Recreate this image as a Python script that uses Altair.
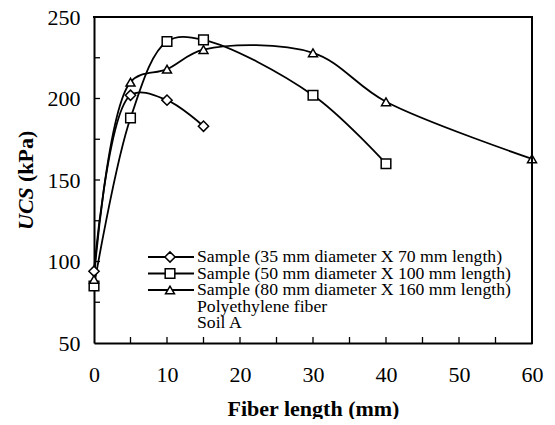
import altair as alt
import pandas as pd

# ---- data ----
series_names = [
    "Sample (35 mm diameter X 70 mm length)",
    "Sample (50 mm diameter X 100 mm length)",
    "Sample (80 mm diameter X 160 mm length)",
]
shapes = ["diamond", "square", "triangle-up"]
x35 = [0, 5, 10, 15]
y35 = [94, 202, 199, 183]
x50 = [0, 5, 10, 15, 30, 40]
y50 = [85, 188, 235, 236, 202, 160]
x80 = [0, 5, 10, 15, 30, 40, 60]
y80 = [89, 210, 218, 230, 228, 198, 163]
notes = ["Polyethylene fiber", "Soil A"]
x_label_values = [0, 10, 20, 30, 40, 50, 60]
y_label_values = [50, 100, 150, 200, 250]
x_minor_ticks = [5, 10, 15, 20, 25, 30, 35, 40, 45, 50, 55]
y_minor_ticks = [75, 100, 125, 150, 175, 200, 225]

FONT = "Liberation Serif, Times New Roman, serif"
W, H = 438, 326

rows = []
for name, xs, ys in zip(series_names, [x35, x50, x80], [y35, y50, y80]):
    for i, (a, b) in enumerate(zip(xs, ys)):
        rows.append({"series": name, "x": a, "y": b, "order": i})
df = pd.DataFrame(rows)

xscale = alt.Scale(domain=[0, 60], nice=False, zero=False)
yscale = alt.Scale(domain=[50, 250], nice=False, zero=False)
shape_scale = alt.Scale(domain=series_names, range=shapes)
size_scale = alt.Scale(domain=series_names, range=[105, 80, 95])

x_enc = alt.X(
    "x:Q", scale=xscale,
    axis=alt.Axis(values=x_label_values, title="Fiber length (mm)", grid=False,
                  domain=True, domainColor="black", domainWidth=2,
                  ticks=False, tickSize=0, labelPadding=21,
                  labelFlush=False, labelOverlap=False,
                  labelFont=FONT, labelFontSize=22, labelColor="black",
                  titleFont=FONT, titleFontSize=22, titleFontWeight="bold",
                  titleColor="black", titleBaseline="alphabetic", titleY=72),
)
y_enc = alt.Y(
    "y:Q", scale=yscale,
    axis=alt.Axis(values=y_label_values, title=None, grid=False,
                  domain=True, domainColor="black", domainWidth=2,
                  ticks=False, tickSize=0, labelPadding=14, labelFlush=False,
                  labelOverlap=False, labelFont=FONT,
                  labelFontSize=22, labelColor="black"),
)

lines = alt.Chart(df).mark_line(interpolate="catmull-rom", color="black", strokeWidth=1.8).encode(
    x=x_enc, y=y_enc, detail="series:N", order="order:Q"
)
points = alt.Chart(df).mark_point(filled=True, fill="white", stroke="black", strokeWidth=1.5, opacity=1).encode(
    x=alt.X("x:Q", scale=xscale),
    y=alt.Y("y:Q", scale=yscale),
    shape=alt.Shape("series:N", scale=shape_scale, legend=None),
    size=alt.Size("series:N", scale=size_scale, legend=None),
)

# inward minor ticks
xt = alt.Chart(pd.DataFrame({"x": x_minor_ticks})).mark_rule(color="black", strokeWidth=1.3).encode(
    x=alt.X("x:Q", scale=xscale), y=alt.value(H), y2=alt.value(H - 6)
)
yt = alt.Chart(pd.DataFrame({"y": y_minor_ticks})).mark_rule(color="black", strokeWidth=1.3).encode(
    y=alt.Y("y:Q", scale=yscale), x=alt.value(0), x2=alt.value(6)
)

# top and right sides of the frame
one = pd.DataFrame({"f": [0]})
frame_style = dict(color="black", strokeWidth=2, strokeCap="square")
frame = [
    alt.Chart(one).mark_rule(**frame_style).encode(x=alt.value(0), x2=alt.value(W), y=alt.value(0)),
    alt.Chart(one).mark_rule(**frame_style).encode(x=alt.value(W), y=alt.value(0), y2=alt.value(H)),
]

# ---- in-plot legend (one small layer per row) ----
row_y = [240, 256.5, 273, 289.5, 306]
legend_layers = []
for i, name in enumerate(series_names):
    d = pd.DataFrame({"series": [name], "label": [name]})
    legend_layers.append(alt.Chart(d).mark_rule(color="black", strokeWidth=1.8).encode(
        y=alt.value(row_y[i]), x=alt.value(54), x2=alt.value(100)))
    legend_layers.append(alt.Chart(d).mark_point(
        filled=True, fill="white", stroke="black", strokeWidth=1.5, opacity=1
    ).encode(
        y=alt.value(row_y[i]), x=alt.value(76),
        shape=alt.Shape("series:N", scale=shape_scale, legend=None),
        size=alt.Size("series:N", scale=size_scale, legend=None),
    ))
    legend_layers.append(alt.Chart(d).mark_text(
        align="left", baseline="middle", font=FONT, fontSize=17.7, color="black"
    ).encode(y=alt.value(row_y[i]), x=alt.value(103), text="label:N"))
for j, t in enumerate(notes):
    d = pd.DataFrame({"label": [t]})
    legend_layers.append(alt.Chart(d).mark_text(
        align="left", baseline="middle", font=FONT, fontSize=17.7, color="black"
    ).encode(y=alt.value(row_y[3 + j]), x=alt.value(103), text="label:N"))

ttl1 = alt.Chart(pd.DataFrame({"t": ["UCS"]})).mark_text(
    align="left", baseline="middle", angle=270, font=FONT, fontSize=22,
    fontWeight="bold", fontStyle="italic", color="black"
).encode(text="t:N", x=alt.value(-68), y=alt.value(213))
ttl2 = alt.Chart(pd.DataFrame({"t": ["(kPa)"]})).mark_text(
    align="left", baseline="middle", angle=270, font=FONT, fontSize=22,
    fontWeight="bold", color="black"
).encode(text="t:N", x=alt.value(-68), y=alt.value(165))

chart = alt.layer(lines, points, xt, yt, *frame, *legend_layers, ttl1, ttl2).properties(
    width=W, height=H,
    autosize=alt.AutoSizeParams(type="none"),
    padding={"left": 86, "top": 9, "right": 15, "bottom": 76},
).configure_view(stroke="black", strokeWidth=2).configure(background="white")

chart.save("out.html", embed_options={"renderer": "svg", "actions": False})
